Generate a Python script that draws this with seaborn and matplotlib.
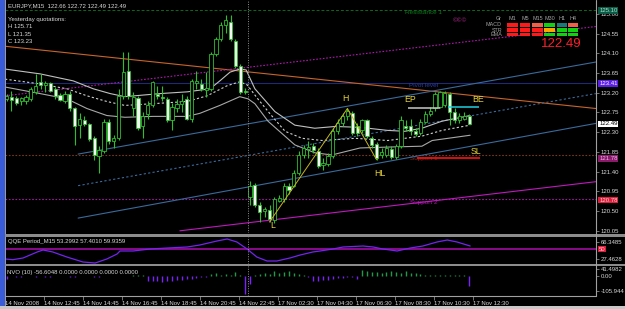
import numpy as np
import pandas as pd
import matplotlib
matplotlib.use("Agg")
import matplotlib.pyplot as plt
import seaborn as sns
from matplotlib.transforms import blended_transform_factory
from matplotlib.patches import Rectangle
from matplotlib.lines import Line2D

# ---------------- data ----------------
opens = [123.06, 123.11, 123.09, 123.00, 123.00, 123.06, 123.22, 123.45, 123.38, 123.42,
         123.29, 123.15, 123.02, 123.18, 122.84, 122.46, 122.57, 122.48, 122.16, 121.76,
         121.87, 122.54, 122.09, 122.16, 123.13, 123.69, 122.84, 123.09, 122.43, 122.72,
         122.93, 123.18, 123.11, 123.06, 122.57, 122.84, 122.95, 123.06, 122.61, 123.42,
         123.40, 123.27, 123.29, 124.08, 124.42, 124.75, 124.82, 124.37, 123.81, 123.24,
         120.81, 121.10, 120.65, 120.50, 120.52, 120.29, 120.74, 120.77, 121.08, 121.08,
         121.37, 121.78, 121.91, 121.98, 121.87, 121.55, 121.58, 121.76, 122.32, 122.50,
         122.66, 122.73, 122.43, 122.34, 122.57, 122.16, 122.03, 121.78, 121.78, 121.91,
         121.73, 121.98, 122.45, 122.43, 122.32, 122.27, 122.54, 122.72, 122.84, 122.88,
         122.91, 123.18, 122.77, 122.57, 122.61, 122.66]
highs = [123.18, 123.24, 123.13, 123.11, 123.15, 123.33, 123.63, 123.63, 123.47, 123.45,
         123.33, 123.20, 123.24, 123.24, 122.88, 122.73, 122.66, 122.52, 122.21, 121.98,
         122.61, 122.61, 122.23, 123.29, 124.12, 124.12, 123.22, 123.13, 122.77, 123.00,
         123.47, 123.36, 123.36, 123.11, 122.97, 123.06, 123.18, 123.13, 123.51, 123.69,
         123.51, 123.67, 124.12, 124.46, 124.82, 124.98, 124.98, 124.42, 123.85, 123.31,
         121.19, 121.15, 120.70, 120.59, 120.63, 120.81, 120.86, 121.15, 121.13, 121.44,
         121.87, 122.00, 122.10, 122.05, 121.94, 121.71, 121.82, 122.39, 122.61, 122.73,
         122.84, 122.79, 122.50, 122.61, 122.61, 122.21, 122.07, 121.94, 122.00, 121.98,
         122.03, 122.66, 122.57, 122.61, 122.39, 122.61, 122.79, 122.88, 123.22, 123.24,
         123.24, 123.22, 122.84, 122.73, 122.75, 122.72]
lows = [123.00, 122.79, 122.93, 122.93, 122.95, 123.02, 123.18, 123.29, 123.22, 123.22,
        123.06, 123.00, 122.97, 122.79, 122.00, 122.16, 122.43, 122.10, 121.67, 121.37,
        121.82, 122.03, 121.94, 122.12, 123.06, 123.06, 122.66, 122.34, 122.16, 122.61,
        122.88, 123.06, 123.00, 122.54, 122.34, 122.77, 122.77, 122.57, 122.54, 123.29,
        123.24, 123.11, 123.24, 124.03, 124.37, 124.57, 124.37, 123.76, 123.18, 123.18,
        120.65, 120.59, 120.25, 120.36, 120.25, 120.23, 120.70, 120.70, 120.90, 121.04,
        121.33, 121.71, 121.71, 121.82, 121.49, 121.44, 121.53, 121.71, 122.25, 122.43,
        122.57, 122.23, 122.21, 122.27, 122.16, 121.94, 121.67, 121.71, 121.73, 121.69,
        121.69, 121.94, 122.32, 122.23, 122.21, 122.23, 122.50, 122.68, 122.79, 122.84,
        122.88, 122.46, 122.50, 122.52, 122.57, 122.49]
closes = [123.13, 123.04, 122.97, 123.09, 123.11, 123.29, 123.36, 123.38, 123.42, 123.24,
          123.13, 123.04, 123.18, 122.86, 122.43, 122.59, 122.48, 122.14, 121.78, 121.89,
          122.54, 122.09, 122.16, 123.13, 123.67, 123.13, 123.11, 122.39, 122.68, 122.93,
          123.45, 123.13, 123.09, 122.57, 122.88, 122.95, 123.02, 122.61, 123.47, 123.47,
          123.29, 123.31, 124.08, 124.42, 124.75, 124.86, 124.42, 123.81, 123.22, 123.22,
          121.08, 120.65, 120.47, 120.54, 120.32, 120.77, 120.79, 121.08, 120.97, 121.37,
          121.78, 121.94, 121.96, 121.89, 121.53, 121.60, 121.76, 122.32, 122.50, 122.66,
          122.79, 122.27, 122.27, 122.57, 122.21, 122.00, 121.71, 121.85, 121.94, 121.73,
          121.98, 122.57, 122.39, 122.32, 122.25, 122.54, 122.72, 122.79, 123.18, 123.22,
          123.20, 122.77, 122.57, 122.66, 122.68, 122.49]

# moving-average envelope (bar index, price)
ma_x = [-0.3, 6.9, 13.7, 17.8, 21.3, 24.3, 31.5, 37.1, 41.8, 43.8, 45.9, 47.9, 49.2, 51.0,
        55.1, 59.2, 63.3, 67.5, 72.6, 78.3, 81.8, 85.3, 89.4, 95.2]
ma_upper = [123.74, 123.63, 123.47, 123.29, 123.18, 123.11, 123.18, 123.22, 123.29, 123.47,
            123.67, 123.74, 123.72, 123.29, 122.77, 122.46, 122.39, 122.43, 122.41, 122.34,
            122.32, 122.39, 122.55, 122.68]
mid_x = [-0.3, 6.9, 12.4, 16.5, 20.6, 24.3, 30.1, 37.1, 41.2, 45.3, 47.9, 49.4, 51.6, 54.1,
         57.2, 60.7, 64.8, 71.6, 78.3, 85.3, 89.4, 95.2]
ma_mid = [123.51, 123.40, 123.29, 123.13, 123.00, 122.91, 122.95, 123.00, 123.13, 123.36,
          123.45, 123.38, 123.06, 122.72, 122.32, 122.16, 122.11, 122.16, 122.11, 122.21,
          122.34, 122.46]
low_x = [-0.3, 6.9, 12.4, 16.5, 20.6, 24.3, 30.1, 37.1, 39.7, 43.8, 47.9, 49.6, 51.0, 53.7,
         59.2, 63.3, 66.8, 72.6, 78.3, 85.3, 87.4, 95.2]
ma_lower = [123.33, 123.18, 123.06, 122.84, 122.68, 122.64, 122.66, 122.66, 122.73, 122.91,
            123.11, 123.06, 122.95, 122.55, 122.01, 121.83, 121.78, 121.94, 121.96, 121.98,
            122.11, 122.23]

# trend / channel lines: (start index, end index, start price, end price)
orange_line = [-0.3, 121.0, 124.26, 122.84]
chan_upper = [14.7, 121.0, 121.80, 123.90]
chan_mid = [14.7, 121.0, 121.08, 123.18]
chan_lower = [14.7, 121.0, 120.34, 122.50]
magenta_solid = [35.6, 121.0, 120.05, 121.17]
magenta_dotted = [-0.3, 121.0, 123.13, 124.71]

# pivot levels
level_names = ["Resistance 1", "Pivot level", "Support 1", "Support 2"]
level_prices = [125.09, 123.43, 121.78, 120.77]
level_tags = ["125.10", "123.41", "121.78", "120.78"]

# trade annotation
zig_x = [54, 70, 76]
zig_p = [120.25, 122.84, 121.67]
ep_price, be_price, sl_price = 122.86, 122.88, 121.71

# QQE
qqe_x = [-0.3, 1.3, 3.4, 6.3, 7.5, 9.5, 12.4, 15.7, 18.2, 20.6, 22.7, 23.3, 26.0, 29.5, 33.0,
         37.1, 39.7, 43.2, 45.3, 47.3, 49.4, 51.4, 53.5, 55.5, 58.2, 60.3, 62.9, 64.4, 67.0,
         69.1, 73.2, 75.3, 77.3, 80.2, 82.9, 85.5, 88.4, 90.5, 92.5, 95.2]
qqe_vals = [27.5, 25.9, 29.8, 43.5, 48.1, 43.5, 32.0, 20.6, 18.3, 27.5, 38.9, 45.8, 45.8, 50.3,
            52.6, 54.9, 59.5, 68.6, 73.2, 66.4, 50.3, 32.0, 22.9, 22.9, 29.8, 36.6, 43.5, 45.8,
            50.3, 54.9, 57.2, 54.9, 50.3, 45.8, 52.6, 57.2, 66.4, 70.9, 66.4, 57.2]

# NVO histogram
nvo = [-25, -5, -10, -8, 0, -6, -10, -5, -12, -8, -5, -4, -6, -10, -8, -5, -6, -4, -8, -10,
       -5, -4, -6, -3, 0, 0, 2, 3, 3, -35, -38, -40, -42, -38, -35, -30, -30, -25, -22, -18,
       -12, -8, 8, 15, 5, 10, 5, 25, 6, -125, -55, 5, 10, 15, 12, 30, 20, 25, 30, 15,
       8, 3, -12, -40, -38, -30, -28, -25, -18, -14, -10, -8, -25, 35, 30, 25, 22, 20, 25, 30,
       25, 20, 28, 15, 18, 12, 5, 3, 3, 5, 3, 5, 3, 3, 2, -70]

time_tick_idx = [0, 8, 16, 24, 32, 40, 48, 56, 64, 72, 80, 88, 96]
time_labels = ["14 Nov 2008", "14 Nov 12:45", "14 Nov 14:45", "14 Nov 16:45", "14 Nov 18:45",
               "14 Nov 20:45", "14 Nov 22:45", "17 Nov 02:30", "17 Nov 04:30", "17 Nov 06:30",
               "17 Nov 08:30", "17 Nov 10:30", "17 Nov 12:30"]
price_ticks = [125.00, 124.55, 124.10, 123.65, 123.20, 122.75, 122.30, 121.85, 121.40,
               120.95, 120.50, 120.05]
day_break_idx = 49.6

tf_names = ["M1", "M5", "M15", "M30", "H1", "H4"]
row_names = ["MACD", "STR", "EMA"]
RED, SAL, GRN, TEAL, ORG = "#ff1a1a", "#f06048", "#12d012", "#1a7a7a", "#ffa500"
signal_colors = [[RED, RED, SAL, GRN, TEAL, SAL],
                 [RED, RED, RED, ORG, GRN, GRN],
                 [RED, RED, RED, GRN, GRN, GRN]]

# ---------------- figure ----------------
sns.set_theme(style="dark")
plt.rcParams['font.family'] = ['Liberation Sans', 'DejaVu Sans']
plt.rcParams['axes.facecolor'] = 'black'

W, H = 625, 309
fig = plt.figure(figsize=(W / 100, H / 100), dpi=100, facecolor='black')


def px_axes(x0, y0, x1, y1):
    a = fig.add_axes([x0 / W, 1 - y1 / H, (x1 - x0) / W, (y1 - y0) / H])
    a.set_facecolor('black')
    for s in a.spines.values():
        s.set_visible(False)
    a.grid(False)
    return a


def fx(x):
    return x / W


def fy(y):
    return 1 - y / H


SMALL = 4.3
TXT = '#d8d8d8'
XL = (-0.31, 121.04)

ax = px_axes(5, 0, 596, 233)
ax.set_xlim(*XL)
ax.set_ylim(120.0, 125.315)
axq = px_axes(5, 236.5, 596, 263.5)
axq.set_xlim(*XL)
axq.set_ylim(17.18, 78.93)
axn = px_axes(5, 265.5, 596, 296)
axn.set_xlim(*XL)
axn.set_ylim(-140.2, 68.9)

# ---- horizontal pivot levels
level_styles = [dict(color='#0b6a1a', ls=(0, (3, 2)), lw=0.7),
                dict(color='#1c2a78', ls='-', lw=0.8),
                dict(color='#7a3a1a', ls=(0, (1.5, 1.5)), lw=0.8),
                dict(color='#a01aa0', ls=(0, (1.5, 1.5)), lw=0.8)]
level_text_col = ['#0b7a1a', '#2a3aa8', '#8a2a1a', '#b01ab0']
tag_bg = ['#0a5a46', '#5a1ee6', '#8a1a6a', '#e01c3c']
tag_fg = ['#a8e0c8', '#ffffff', '#f0b0f0', '#ffd0d0']
tag_dy = [-0.6, -0.6, -2.6, -0.6]
trans_r = blended_transform_factory(ax.transAxes, ax.transData)
for name, p, st, tc, tg, bg, fg, dy in zip(level_names, level_prices, level_styles,
                                            level_text_col, level_tags, tag_bg, tag_fg, tag_dy):
    ax.axhline(p, zorder=1, **st)
    ax.text(85.7, p - 0.07, name, color=tc, fontsize=4.6, ha='center', va='center', zorder=2)
    ax.annotate(tg, xy=(1, p), xycoords=trans_r, xytext=(2.2, dy), textcoords='offset points',
                ha='left', va='center', fontsize=SMALL, color=fg, annotation_clip=False,
                bbox=dict(boxstyle='square,pad=0.12', fc=bg, ec='none'))


def seg(a, line, **kw):
    sns.lineplot(x=[line[0], line[1]], y=[line[2], line[3]], ax=a, sort=False,
                 estimator=None, **kw)


seg(ax, orange_line, color='#c8642a', linewidth=0.8, zorder=2)
seg(ax, chan_upper, color='#3a6a9c', linewidth=0.8, zorder=2)
seg(ax, chan_mid, color='#3a6a9c', linewidth=0.8, linestyle=(0, (2, 2)), zorder=2)
seg(ax, chan_lower, color='#3a6a9c', linewidth=0.8, zorder=2)
seg(ax, magenta_solid, color='#c018c0', linewidth=0.8, zorder=2)
seg(ax, magenta_dotted, color='#b018b0', linewidth=0.8, linestyle=(0, (1.5, 1.5)), zorder=2)

# ---- envelope
sns.lineplot(x=ma_x, y=ma_upper, ax=ax, color='#c0c0c0', linewidth=0.8, sort=False,
             estimator=None, zorder=3)
sns.lineplot(x=mid_x, y=ma_mid, ax=ax, color='#d0d0d0', linewidth=0.8, sort=False,
             estimator=None, linestyle=(0, (2, 2)), zorder=3)
sns.lineplot(x=low_x, y=ma_lower, ax=ax, color='#a8a8a8', linewidth=0.8, sort=False,
             estimator=None, zorder=3)

# ---- candles
GREEN = '#2cc02c'
o = np.array(opens)
c = np.array(closes)
idx = np.arange(len(o))
bull = c >= o
ax.vlines(idx, lows, highs, color=GREEN, lw=0.8, zorder=4)
body_lo = np.minimum(o, c)
body_h = np.maximum(np.abs(c - o), 0.015)
ax.bar(idx, body_h, bottom=body_lo, width=0.66,
       color=np.where(bull, 'black', '#f4f4f4'), edgecolor=GREEN, linewidth=0.6, zorder=5)

# ---- trade annotations
sns.lineplot(x=zig_x, y=zig_p, ax=ax, color='#c8b41e', linewidth=0.7, sort=False,
             estimator=None, zorder=6)
ax.hlines(ep_price, 82.4, 89.0, color='#c8c8c8', lw=1.1, zorder=6)
ax.hlines(be_price, 90.6, 97.0, color='#20d0e0', lw=1.1, zorder=6)
ax.hlines(sl_price, 84.3, 97.2, color='#ff1010', lw=1.2, zorder=6)
YEL = '#e8d43a'
for t, xi, yp in [("L", 54.7, 120.16), ("H", 69.5, 123.06), ("HL", 76.7, 121.35),
                  ("EP", 82.9, 123.04), ("BE", 96.8, 123.04), ("SL", 96.4, 121.87)]:
    ax.text(xi, yp, t, color=YEL, fontsize=6.3, ha='center', va='center', zorder=7)

# day separator
for a in (ax, axq, axn):
    a.axvline(day_break_idx, color='#909090', lw=0.7, ls=(0, (1, 1.5)), zorder=8)

# right axis main
ax.yaxis.tick_right()
ax.set_yticks(price_ticks)
ax.set_yticklabels([f"{v:.2f}" for v in price_ticks])
ax.tick_params(axis='y', length=2, width=0.5, color='#a0a0a0', labelcolor=TXT,
               labelsize=SMALL, pad=1.5, right=True, left=False)
ax.set_xticks([])
ax.set_xlabel('')
ax.set_ylabel('')
# current price tag
ax.annotate(f"{closes[-1]:.2f}", xy=(1, closes[-1]), xycoords=trans_r, xytext=(2.2, 0),
            textcoords='offset points', ha='left', va='center', fontsize=SMALL, color='black',
            annotation_clip=False, bbox=dict(boxstyle='square,pad=0.12', fc='white', ec='none'))

# ---- QQE
axq.axhline(50, color='#8a0a8a', lw=1.4, zorder=1)
sns.lineplot(x=qqe_x, y=qqe_vals, ax=axq, color='#7424f0', linewidth=0.9, sort=False,
             estimator=None, zorder=3)
axq.yaxis.tick_right()
axq.set_yticks([66.3485, 27.4628])
axq.set_yticklabels(["66.3485", "27.4628"])
axq.tick_params(axis='y', length=2, width=0.5, color='#a0a0a0', labelcolor=TXT,
                labelsize=SMALL, pad=1.5, right=True, left=False)
axq.set_xticks([])
axq.set_xlabel('')
axq.set_ylabel('')
trans_q = blended_transform_factory(axq.transAxes, axq.transData)
axq.annotate("50", xy=(1, 50), xycoords=trans_q, xytext=(2.2, 0), textcoords='offset points',
             ha='left', va='center', fontsize=SMALL, color='#ffd0d0', annotation_clip=False,
             bbox=dict(boxstyle='square,pad=0.12', fc='#e01c3c', ec='none'))

# ---- NVO
nv = np.array(nvo)
axn.vlines(idx, 0, nv, colors=np.where(nv < 0, '#7b22ff', '#1f9a4a'), lw=1.0, zorder=3)
axn.yaxis.tick_right()
axn.set_yticks([41.4982, 0.0, -105.944])
axn.set_yticklabels(["41.4982", "0.00", "-105.944"])
axn.tick_params(axis='y', length=2, width=0.5, color='#a0a0a0', labelcolor=TXT,
                labelsize=SMALL, pad=1.5, right=True, left=False)
axn.set_xticks(np.array(time_tick_idx) - 0.3)
axn.set_xticklabels(time_labels)
axn.tick_params(axis='x', length=3, width=0.5, color='#a0a0a0', labelcolor=TXT,
                labelsize=SMALL, pad=0.6, direction='out', bottom=True)
for lbl in axn.get_xticklabels():
    lbl.set_ha('left')
axn.set_xlabel('')
axn.set_ylabel('')

# ---- frame decorations
fig.add_artist(Rectangle((0, 0), fx(4.5), 1, transform=fig.transFigure, fc='#3a5cd8', ec='none'))
fig.add_artist(Rectangle((fx(4.5), 0), fx(1), 1, transform=fig.transFigure, fc='#9a9a9a', ec='none'))
for y0, y1 in [(233.5, 236.5), (263.5, 265.5)]:
    fig.add_artist(Rectangle((fx(5), fy(y1)), fx(620), (y1 - y0) / H, transform=fig.transFigure,
                             fc='#8c8c8c', ec='none'))
fig.add_artist(Line2D([fx(596), fx(596)], [fy(296), fy(0)], transform=fig.transFigure,
                      color='#a0a0a0', lw=0.8))
fig.add_artist(Line2D([fx(5), fx(596)], [fy(296), fy(296)], transform=fig.transFigure,
                      color='#a0a0a0', lw=0.8))
fig.add_artist(Rectangle((0, 0), 1, 3 / H, transform=fig.transFigure, fc='#c8c8c8', ec='none'))

# ---- overlay texts
fig.text(fx(8), fy(6), "EURJPY,M15  122.66 122.72 122.49 122.49", color=TXT, fontsize=SMALL,
         ha='left', va='center')
for k, t in enumerate(["Yesterday quotations:", "H 125.71", "L 121.35", "C 123.23"]):
    fig.text(fx(8), fy(19 + 7.5 * k), t, color=TXT, fontsize=SMALL, ha='left', va='center')
fig.text(fx(8), fy(241), "QQE Period_M15 53.2992 57.4010 59.9359", color=TXT,
         fontsize=SMALL, ha='left', va='center')
fig.text(fx(7), fy(272.5), "NVO (10) -56.6048 0.0000 0.0000 0.0000 0.0000", color=TXT,
         fontsize=SMALL, ha='left', va='center')
fig.text(fx(460), fy(21), "©©©", color='#c02a9a', fontsize=4.6, ha='center', va='center')
fig.text(fx(561), fy(44), f"{closes[-1]:.2f}", color='#ff1e2a', fontsize=9.5,
         ha='center', va='center')

# signal table
col_x = [(507, 518), (520, 530), (532, 543), (544, 555), (557, 567), (568, 578)]
row_y = [25, 30, 34.5]
fig.text(fx(499), fy(19), "Gr", color='#a0a0a0', fontsize=3.9, ha='center', va='center')
for (x0, x1), nm in zip(col_x, tf_names):
    fig.text(fx((x0 + x1) / 2), fy(19), nm, color='#a0a0a0', fontsize=3.9, ha='center',
             va='center')
for r, (yy, nm) in enumerate(zip(row_y, row_names)):
    fig.text(fx(502), fy(yy), nm, color='#a0a0a0', fontsize=3.9, ha='right', va='center')
    for cc, (x0, x1) in enumerate(col_x):
        fig.add_artist(Rectangle((fx(x0), fy(yy + 1.6)), (x1 - x0) / W, 3.2 / H,
                                 transform=fig.transFigure, fc=signal_colors[r][cc], ec='none'))

fig.savefig("out.png", dpi=100, facecolor='black')
